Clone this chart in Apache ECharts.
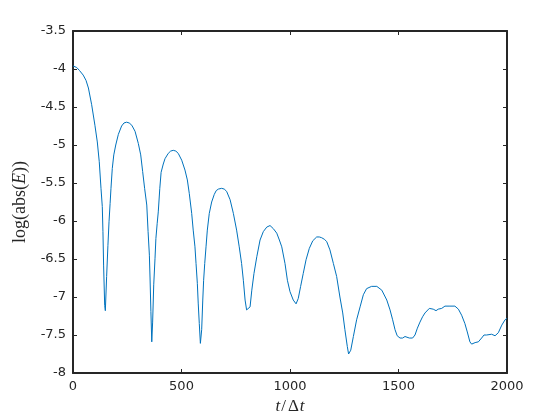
<!DOCTYPE html>
<html>
<head>
<meta charset="utf-8">
<script src="https://cdn.jsdelivr.net/npm/echarts@6/dist/echarts.min.js"></script>
<style>html,body{margin:0;padding:0;background:#fff;}#c{width:560px;height:420px;}</style>
</head>
<body>
<div id="c"></div>
<script>
// Time step index t/Δt
const tValues = [0, 8, 17, 30, 47, 60, 71, 86, 101, 112, 121, 129, 135, 138, 141, 146, 149, 155, 161, 166, 171, 175,
  181, 188, 197, 209, 224, 235, 247, 259, 271, 286, 301, 312, 321, 330, 340, 346, 352, 355, 359, 363, 367, 372,
  378, 382, 388, 393, 400, 406, 416, 424, 439, 450, 462, 474, 485, 501, 516, 527, 536, 547, 554, 562, 567, 573,
  577, 582, 587, 593, 598, 602, 607, 613, 619, 628, 639, 651, 660, 670, 685, 697, 708, 724, 739, 754, 766, 777,
  785, 793, 800, 808, 816, 824, 834, 847, 862, 877, 893, 908, 923, 939, 951, 962, 977, 988, 1000, 1015,
  1028, 1038, 1049, 1061, 1074, 1089, 1105, 1123, 1135, 1146, 1158, 1169, 1184, 1200, 1215, 1230, 1243, 1253, 1264, 1270, 1280, 1292,
  1307, 1323, 1338, 1353, 1376, 1400, 1423, 1446, 1461, 1473, 1484, 1494, 1507, 1519, 1530, 1538, 1550, 1565, 1576, 1587,
  1599, 1611, 1622, 1630, 1642, 1660, 1673, 1683, 1699, 1714, 1737, 1760, 1776, 1791, 1806, 1817, 1829, 1837, 1853, 1868,
  1883, 1894, 1906, 1914, 1929, 1945, 1960, 1976, 1991, 2000];
// log(abs(E))
const logAbsE = [-3.96, -3.96, -3.98, -4.02, -4.08, -4.15, -4.25, -4.47, -4.74, -4.96, -5.22, -5.57, -5.81, -6.14, -6.58, -7.11, -7.18, -6.73, -6.32, -6.01, -5.77, -5.57,
  -5.31, -5.13, -5.00, -4.86, -4.75, -4.71, -4.70, -4.71, -4.74, -4.82, -4.98, -5.13, -5.35, -5.57, -5.79, -6.14, -6.45, -6.75, -7.19, -7.59, -7.33, -6.84,
  -6.49, -6.23, -6.03, -5.88, -5.57, -5.36, -5.25, -5.18, -5.11, -5.08, -5.07, -5.08, -5.11, -5.20, -5.33, -5.46, -5.64, -5.90, -6.12, -6.34, -6.56, -6.82,
  -7.08, -7.35, -7.61, -7.43, -7.04, -6.78, -6.56, -6.34, -6.12, -5.90, -5.75, -5.65, -5.60, -5.58, -5.57, -5.58, -5.61, -5.72, -5.90, -6.12, -6.34, -6.56,
  -6.78, -7.04, -7.17, -7.19, -7.13, -6.91, -6.69, -6.47, -6.25, -6.14, -6.08, -6.06, -6.10, -6.16, -6.25, -6.34, -6.56, -6.78, -6.93, -7.04,
  -7.09, -7.02, -6.86, -6.69, -6.51, -6.36, -6.26, -6.21, -6.21, -6.22, -6.24, -6.27, -6.38, -6.56, -6.73, -7.00, -7.21, -7.43, -7.65, -7.75, -7.70, -7.52,
  -7.30, -7.13, -6.97, -6.89, -6.86, -6.86, -6.91, -7.04, -7.17, -7.30, -7.43, -7.51, -7.54, -7.54, -7.52, -7.50, -7.54, -7.54, -7.50, -7.41,
  -7.33, -7.26, -7.21, -7.19, -7.15, -7.16, -7.18, -7.16, -7.15, -7.12, -7.12, -7.12, -7.16, -7.24, -7.35, -7.46, -7.59, -7.62, -7.60, -7.59,
  -7.54, -7.50, -7.50, -7.51, -7.49, -7.51, -7.47, -7.37, -7.30, -7.28];
const xTicks = [0, 500, 1000, 1500, 2000];
const yTicks = [-8, -7.5, -7, -6.5, -6, -5.5, -5, -4.5, -4, -3.5];

const seriesData = tValues.map((t, i) => [t, logAbsE[i]]);
const axisColor = '#262626';
const font = 'DejaVu Sans';
const chart = echarts.init(document.getElementById('c'), null, {renderer: 'canvas'});
const common = {
  axisLine: {show: true, onZero: false, lineStyle: {color: axisColor, width: 2}},
  axisTick: {show: true, inside: true, length: 4, lineStyle: {color: axisColor, width: 1}},
  splitLine: {show: false}
};
const serif = 'Liberation Serif';
chart.setOption({
  animation: false,
  backgroundColor: '#ffffff',
  grid: {left: 73, right: 53, top: 31, bottom: 47, containLabel: false},
  xAxis: [
    Object.assign({
      type: 'value', position: 'bottom', min: xTicks[0], max: xTicks[xTicks.length - 1], interval: 500,
      axisLabel: {color: axisColor, fontFamily: font, fontSize: 13, margin: 7, formatter: v => String(v)},
      name: '{i|t}{n|/}{d|Δ}{i|t}', nameLocation: 'middle', nameGap: 23,
      nameTextStyle: {rich: {
        i: {fontFamily: serif, fontStyle: 'italic', fontSize: 17, color: axisColor},
        n: {fontFamily: serif, fontSize: 17, color: axisColor, padding: [0, 2, 0, 1]},
        d: {fontFamily: serif, fontSize: 17, color: axisColor, padding: [0, 1, 0, 0]}
      }}
    }, common),
    Object.assign({
      type: 'value', position: 'top', min: 0, max: 2000, interval: 500,
      axisLabel: {show: false}
    }, common)
  ],
  yAxis: [
    Object.assign({
      type: 'value', position: 'left', min: yTicks[0], max: yTicks[yTicks.length - 1], interval: 0.5,
      axisLabel: {color: axisColor, fontFamily: font, fontSize: 13, margin: 7, formatter: v => String(v)},
      name: '{n|log(abs(}{i|E}{n|))}', nameLocation: 'middle', nameGap: 33, nameRotate: 90,
      nameTextStyle: {rich: {
        i: {fontFamily: serif, fontStyle: 'italic', fontSize: 18, color: axisColor},
        n: {fontFamily: serif, fontSize: 18, color: axisColor}
      }}
    }, common),
    Object.assign({
      type: 'value', position: 'right', min: -8, max: -3.5, interval: 0.5,
      axisLabel: {show: false}
    }, common)
  ],
  series: [{
    type: 'line', xAxisIndex: 0, yAxisIndex: 0, data: seriesData,
    showSymbol: false, symbol: 'none', smooth: false,
    lineStyle: {color: '#0072BD', width: 1},
    clip: true
  }]
});
</script>
</body>
</html>
